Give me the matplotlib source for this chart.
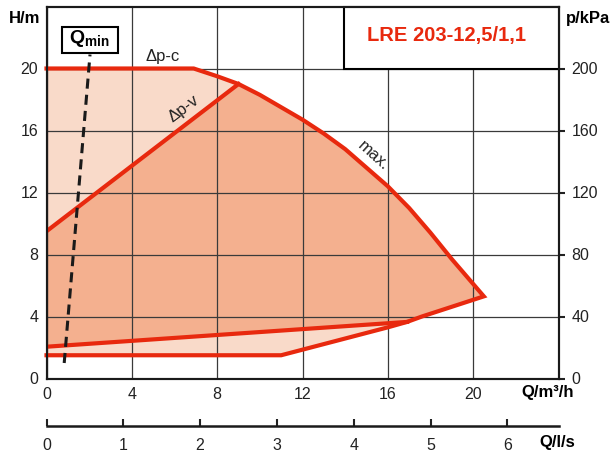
import matplotlib
matplotlib.use('Agg')
import matplotlib.pyplot as plt
from matplotlib.patches import Rectangle

plt.rcParams['font.family'] = ['Liberation Sans', 'DejaVu Sans']
plt.rcParams['mathtext.fontset'] = 'custom'
plt.rcParams['mathtext.rm'] = 'Liberation Sans'
plt.rcParams['mathtext.bf'] = 'Liberation Sans:bold'

# curves, Q in m3/h, H in m
dpc_q = [0, 6.9]
dpc_h = [20.0, 20.0]
max_q = [6.9, 8.0, 9.0, 10.0, 11.0, 12.0, 13.0, 14.0, 15.0, 16.0, 17.0, 18.0, 19.0, 20.5]
max_h = [20.0, 19.5, 19.0, 18.3, 17.5, 16.7, 15.8, 14.8, 13.6, 12.4, 11.0, 9.4, 7.7, 5.3]
min_q = [0, 11.0, 16.0, 16.9, 17.6, 20.5]
min_h = [1.5, 1.5, 3.3, 3.65, 4.0, 5.3]
dpv_top_q = [0, 9.0]
dpv_top_h = [9.5, 19.0]
dpv_low_q = [0, 16.9]
dpv_low_h = [2.05, 3.65]
qmin_q = [0.83, 2.04]
qmin_h = [1.0, 20.9]

h_ticks = [0, 4, 8, 12, 16, 20]
kpa_ticks = [0, 40, 80, 120, 160, 200]
q_ticks = [0, 4, 8, 12, 16, 20]
ls_ticks = [0, 1, 2, 3, 4, 5, 6]
q_max = 24
h_max = 24

RED = '#e8290e'
LIGHT = '#f9dac9'
DARK = '#f4b08f'
W, H = 614, 458

fig = plt.figure(figsize=(W / 100, H / 100), dpi=100)
ax = fig.add_axes([46.5 / W, 1 - 378.5 / H, 512 / W, 372 / H])
ax.set_xlim(0, q_max)
ax.set_ylim(0, h_max)

# light area: whole operating range
light_x = dpc_q + max_q[1:] + min_q[::-1]
light_y = dpc_h + max_h[1:] + min_h[::-1]
ax.fill(light_x, light_y, color=LIGHT, lw=0, zorder=1)

# dark area: delta p-v range
tail = [i for i, q in enumerate(min_q) if q > dpv_low_q[-1]]
top = [i for i, q in enumerate(max_q) if q >= dpv_top_q[-1]][::-1]
dark_x = dpv_low_q + [min_q[i] for i in tail] + [max_q[i] for i in top] + dpv_top_q[::-1]
dark_y = dpv_low_h + [min_h[i] for i in tail] + [max_h[i] for i in top] + dpv_top_h[::-1]
ax.fill(dark_x, dark_y, color=DARK, lw=0, zorder=1)

ax.set_axisbelow(False)
ax.grid(True, color='#3a3a3a', lw=0.9)

# red curves
outer_x = dpc_q + max_q[1:] + min_q[::-1][1:]
outer_y = dpc_h + max_h[1:] + min_h[::-1][1:]
ax.plot(outer_x, outer_y, color=RED, lw=3, solid_joinstyle='miter', zorder=3, clip_on=False)
ax.plot(dpv_top_q, dpv_top_h, color=RED, lw=3, zorder=3)
ax.plot(dpv_low_q, dpv_low_h, color=RED, lw=3, zorder=3)

ln, = ax.plot(qmin_q, qmin_h, color='#1a1a1a', lw=2.2, zorder=4)
ln.set_dashes((3.3, 2))

# labels on curves
ax.text(5.45, 20.8, 'Δp-c', fontsize=12, ha='center', va='center', color='#222222')
ax.text(6.45, 17.4, 'Δp-v', fontsize=12, ha='center', va='center', rotation=37, color='#222222')
ax.text(15.3, 14.4, 'max.', fontsize=12, ha='center', va='center', rotation=-42, color='#222222')

# boxes
ax.add_patch(Rectangle((13.93, 20), q_max - 13.93, h_max - 20, facecolor='white',
                       edgecolor='black', lw=1.5, zorder=6, clip_on=False))
ax.text(18.75, 22.1, 'LRE 203-12,5/1,1', fontsize=14.5, fontweight='bold', color=RED,
        ha='center', va='center', zorder=7)
ax.add_patch(Rectangle((0.71, 21.0), 2.65, 1.7, facecolor='white',
                       edgecolor='black', lw=1.5, zorder=6))
ax.text(2.03, 21.95, r'$\mathbf{Q}_{\mathbf{min}}$', fontsize=14, ha='center', va='center', zorder=7)

ax.set_xticks(q_ticks)
ax.set_yticks(h_ticks)
ax.tick_params(axis='both', length=0, labelsize=11.5, colors='#222222')
ax.tick_params(axis='x', pad=6)
ax.tick_params(axis='y', pad=6)
for s in ax.spines.values():
    s.set_linewidth(1.5)
    s.set_color('#1a1a1a')

# pressure axis
ax2 = ax.twinx()
ax2.set_ylim(0, h_max * 10)
ax2.set_yticks(kpa_ticks)
ax2.tick_params(axis='y', length=4.5, width=1.5, pad=5, labelsize=11.5, colors='#222222')
for s in ax2.spines.values():
    s.set_linewidth(1.5)
    s.set_color('#1a1a1a')

# flow axis in l/s
ax3 = fig.add_axes([46.5 / W, 1 - 426 / H, 512 / W, 0.02])
ax3.set_xlim(0, q_max / 3.6)
ax3.set_xticks(ls_ticks)
ax3.set_yticks([])
ax3.patch.set_visible(False)
for k in ['left', 'right', 'top']:
    ax3.spines[k].set_visible(False)
ax3.spines['bottom'].set_linewidth(1.8)
ax3.spines['bottom'].set_color('#1a1a1a')
ax3.tick_params(axis='x', direction='in', length=5, width=1.5, pad=9, labelsize=11.5, colors='#222222')

fig.text(25 / W, 1 - 18.5 / H, 'H/m', fontsize=12, fontweight='bold', ha='center', va='center')
fig.text(588 / W, 1 - 19 / H, 'p/kPa', fontsize=12, fontweight='bold', ha='center', va='center')
fig.text(548 / W, 1 - 393 / H, 'Q/m³/h', fontsize=12, fontweight='bold', ha='center', va='center')
fig.text(557 / W, 1 - 443 / H, 'Q/l/s', fontsize=12, fontweight='bold', ha='center', va='center')

fig.savefig('out.png', dpi=100)
